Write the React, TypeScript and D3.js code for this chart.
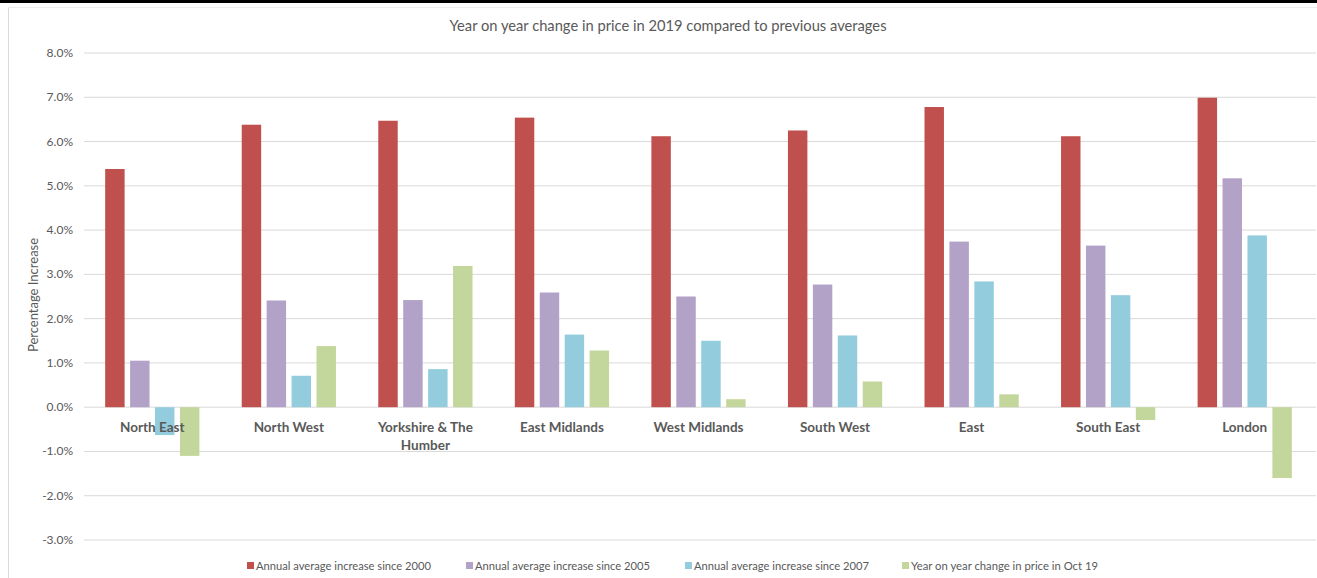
import React from "react";
import * as d3 from "d3";

const categories = [
  "North East",
  "North West",
  "Yorkshire & The Humber",
  "East Midlands",
  "West Midlands",
  "South West",
  "East",
  "South East",
  "London",
];
const seriesNames = [
  "Annual average increase since 2000",
  "Annual average increase since 2005",
  "Annual average increase since 2007",
  "Year on year change in price in Oct 19",
];
const since2000 = [5.38, 6.38, 6.47, 6.54, 6.12, 6.25, 6.78, 6.12, 6.99];
const since2005 = [1.05, 2.41, 2.42, 2.59, 2.5, 2.77, 3.74, 3.65, 5.17];
const since2007 = [-0.63, 0.71, 0.86, 1.64, 1.5, 1.62, 2.84, 2.53, 3.88];
const oct19 = [-1.1, 1.38, 3.19, 1.28, 0.18, 0.58, 0.29, -0.29, -1.6];
const yTicks = [-3, -2, -1, 0, 1, 2, 3, 4, 5, 6, 7, 8];
const colors = ["#C0504D", "#B3A2C7", "#93CDDD", "#C3D69B"];

const W = 1317;
const H = 578;
const FONT = "Lato, 'Open Sans', sans-serif";

export default function App() {
  const series = [since2000, since2005, since2007, oct19];
  const x0 = d3
    .scaleBand<string>()
    .domain(categories)
    .range([84, 1313])
    .paddingInner(0.31)
    .paddingOuter(0.155);
  const x1 = d3
    .scaleBand<number>()
    .domain([0, 1, 2, 3])
    .range([0, x0.bandwidth()])
    .paddingInner(0.22);
  const y = d3.scaleLinear().domain([-3, 8]).range([540, 53]);
  const fmt = d3.formatLocale({
    decimal: ".",
    thousands: ",",
    grouping: [3],
    currency: ["", ""],
    minus: "-",
  }).format(".1f");

  const legendX = [247, 466, 685, 902];
  const legendW = [175, 175, 175, 187];

  return (
    <svg
      width={W}
      height={H}
      style={{ position: "absolute", left: 0, top: 0, background: "#fff" }}
      fontFamily={FONT}
    >
      <rect x={0} y={0} width={W} height={H} fill="#fff" />
      <rect x={0} y={0} width={W} height={3} fill="#000" />
      <line x1={8.5} x2={8.5} y1={7} y2={H} stroke="#D9D9D9" />
      <line x1={8.5} x2={W} y1={7.5} y2={7.5} stroke="#EDEDED" />

      <text
        x={668}
        y={31}
        textAnchor="middle"
        fontSize={16}
        fill="#595959"
        textLength={437}
        lengthAdjust="spacingAndGlyphs"
      >
        Year on year change in price in 2019 compared to previous averages
      </text>

      {yTicks.map((t) => (
        <g key={t}>
          <line x1={84} x2={1316} y1={y(t)} y2={y(t)} stroke="#D9D9D9" strokeWidth={1} />
          <text x={73} y={y(t) + 4} textAnchor="end" fontSize={12} fill="#595959">
            {fmt(t)}%
          </text>
        </g>
      ))}

      <text
        transform={`translate(38,295) rotate(-90)`}
        textAnchor="middle"
        fontSize={13}
        fill="#595959"
      >
        Percentage Increase
      </text>

      {categories.map((c, i) => (
        <g key={c} transform={`translate(${x0(c)},0)`}>
          {series.map((s, k) => {
            const v = s[i];
            const top = y(Math.max(0, v));
            const h = Math.abs(y(v) - y(0));
            return (
              <rect
                key={k}
                x={x1(k)}
                y={top}
                width={x1.bandwidth()}
                height={h}
                fill={colors[k]}
              />
            );
          })}
        </g>
      ))}

      {categories.map((c) => {
        const cx = (x0(c) as number) + x0.bandwidth() / 2;
        const lines = c === "Yorkshire & The Humber" ? ["Yorkshire & The", "Humber"] : [c];
        return (
          <text
            key={c}
            x={cx}
            y={432}
            textAnchor="middle"
            fontSize={13.5}
            fontWeight="bold"
            fill="#595959"
          >
            {lines.map((l, j) => (
              <tspan key={j} x={cx} dy={j === 0 ? 0 : 18}>
                {l}
              </tspan>
            ))}
          </text>
        );
      })}

      {seriesNames.map((n, k) => (
        <g key={n} transform={`translate(${legendX[k]},562)`}>
          <rect x={0} y={0} width={7} height={7} fill={colors[k]} />
          <text
            x={9}
            y={8}
            fontSize={11}
            fill="#595959"
            textLength={legendW[k]}
            lengthAdjust="spacingAndGlyphs"
          >
            {n}
          </text>
        </g>
      ))}
    </svg>
  );
}
